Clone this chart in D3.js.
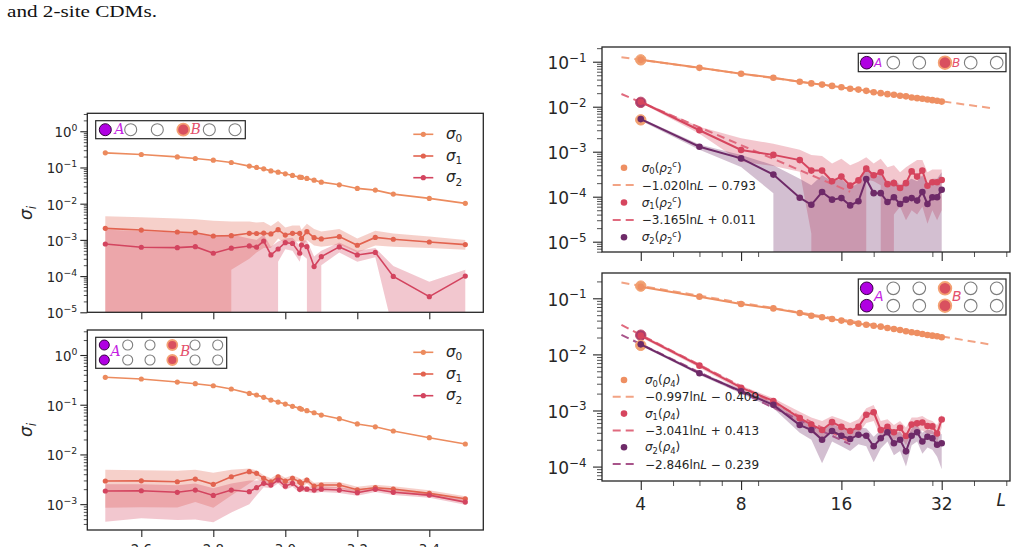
<!DOCTYPE html>
<html>
<head>
<meta charset="utf-8">
<script src="https://cdn.jsdelivr.net/npm/d3@7"></script>
<style>
  body { margin: 0; background: #fff; overflow: hidden; }
  text { font-family: "DejaVu Sans", sans-serif; fill: #262626; }
</style>
</head>
<body>
<svg id="fig" width="1018" height="547"></svg>
<script>
// ---- left column: sigma_i against the coupling ----
const xLeft = [2.5, 2.6, 2.7, 2.75, 2.8, 2.85, 2.9, 2.92, 2.94, 2.96, 2.98, 3.0, 3.02, 3.04, 3.045, 3.06, 3.08, 3.1, 3.15, 3.2, 3.25, 3.3, 3.4, 3.5];
const xLeftTicks = [2.6, 2.8, 3.0, 3.2, 3.4];

// top left (1-site)
const tlSigma0 = [0.253, 0.228, 0.196, 0.177, 0.159, 0.137, 0.109, 0.100, 0.0915, 0.0805, 0.0743, 0.0667, 0.0603, 0.054, 0.053, 0.0498, 0.0447, 0.0393, 0.0332, 0.0264, 0.0237, 0.0184, 0.014, 0.0102];
const tlSigma1 = [2.08e-3, 1.87e-3, 1.65e-3, 1.58e-3, 1.28e-3, 1.31e-3, 1.52e-3, 1.5e-3, 1.54e-3, 1.46e-3, 1.91e-3, 1.36e-3, 1.52e-3, 1.52e-3, 1.1e-3, 1.69e-3, 1.15e-3, 1.06e-3, 1.23e-3, 7.1e-4, 1.17e-3, 1.04e-3, 8.75e-4, 7.4e-4];
const tlSigma2 = [7.7e-4, 6.25e-4, 6.1e-4, 6.5e-4, 4.27e-4, 5.9e-4, 6.8e-4, 6.3e-4, 9.3e-4, 3.84e-4, 5.6e-4, 8.4e-4, 8.0e-4, 4.27e-4, 7.2e-4, 6.5e-4, 1.83e-4, 3.44e-4, 6.4e-4, 3.84e-4, 4.5e-4, 9.8e-5, 2.7e-5, 1.0e-4];
const tlSigma1Hi = [4.5e-3, 4.2e-3, 3.9e-3, 3.7e-3, 3.4e-3, 3.2e-3, 3.2e-3, 3.0e-3, 3.1e-3, 2.4e-3, 3.3e-3, 2.2e-3, 2.5e-3, 2.5e-3, 1.9e-3, 2.8e-3, 2.0e-3, 1.7e-3, 2.0e-3, 1.1e-3, 1.8e-3, 1.5e-3, 1.25e-3, 1.0e-3];
const tlSigma1Lo = [0, 0, 0, 0, 0, 1.5e-4, 3e-4, 4.5e-4, 6e-4, 6e-4, 1.1e-3, 8e-4, 9e-4, 9e-4, 6.5e-4, 1.0e-3, 7e-4, 6.5e-4, 7.5e-4, 4.5e-4, 7e-4, 6.5e-4, 6e-4, 5.3e-4];
const tlSigma2Hi = [1.9e-3, 1.75e-3, 1.6e-3, 1.6e-3, 1.3e-3, 1.4e-3, 1.1e-3, 1.0e-3, 1.4e-3, 6.5e-4, 9e-4, 1.1e-3, 1.15e-3, 7e-4, 1.0e-3, 9.5e-4, 3.5e-4, 5e-4, 8.5e-4, 5e-4, 6e-4, 1.9e-4, 7e-5, 1.5e-4];
const tlSigma2Lo = [0, 0, 0, 0, 0, 0, 0, 0, 3e-4, 0, 2.5e-4, 5.5e-4, 5e-4, 2.5e-4, 4e-4, 3e-4, 0, 2e-4, 4.5e-4, 2.5e-4, 3.3e-4, 3e-6, 0, 0];

// bottom left (2-site)
const blSigma0 = [0.356, 0.329, 0.286, 0.265, 0.241, 0.207, 0.169, 0.157, 0.141, 0.124, 0.113, 0.103, 0.0927, 0.0845, 0.081, 0.0759, 0.069, 0.062, 0.0524, 0.041, 0.036, 0.0296, 0.0217, 0.0162];
const blSigma1 = [2.92e-3, 2.94e-3, 2.82e-3, 3.2e-3, 2.5e-3, 3.56e-3, 4.5e-3, 4.16e-3, 3.3e-3, 2.8e-3, 3.56e-3, 2.9e-3, 3.3e-3, 2.8e-3, 2.6e-3, 3.05e-3, 2.31e-3, 2.42e-3, 2.42e-3, 1.95e-3, 2.14e-3, 2.01e-3, 1.65e-3, 1.28e-3];
const blSigma2 = [1.84e-3, 1.86e-3, 1.73e-3, 1.92e-3, 1.5e-3, 1.92e-3, 1.78e-3, 2.14e-3, 2.62e-3, 2.42e-3, 3.05e-3, 2.3e-3, 2.62e-3, 1.99e-3, 2.1e-3, 2.0e-3, 1.92e-3, 2.0e-3, 1.92e-3, 1.7e-3, 1.99e-3, 1.73e-3, 1.52e-3, 1.1e-3];
const blSigma1Hi = [4.9e-3, 4.8e-3, 4.7e-3, 4.9e-3, 4.3e-3, 4.9e-3, 5.2e-3, 4.8e-3, 3.8e-3, 3.3e-3, 4.1e-3, 3.4e-3, 3.8e-3, 3.3e-3, 3.1e-3, 3.5e-3, 2.7e-3, 2.8e-3, 2.8e-3, 2.25e-3, 2.45e-3, 2.3e-3, 1.9e-3, 1.45e-3];
const blSigma1Lo = [8.5e-4, 8.7e-4, 8.6e-4, 1.1e-3, 8.5e-4, 1.5e-3, 2.6e-3, 3.2e-3, 2.8e-3, 2.4e-3, 3.0e-3, 2.5e-3, 2.8e-3, 2.4e-3, 2.2e-3, 2.6e-3, 1.95e-3, 2.05e-3, 2.1e-3, 1.7e-3, 1.85e-3, 1.75e-3, 1.42e-3, 1.12e-3];
const blSigma2Hi = [2.5e-3, 2.5e-3, 2.4e-3, 2.6e-3, 2.1e-3, 2.6e-3, 3.0e-3, 3.0e-3, 3.1e-3, 2.8e-3, 3.5e-3, 2.7e-3, 3.0e-3, 2.3e-3, 2.4e-3, 2.3e-3, 2.2e-3, 2.3e-3, 2.2e-3, 1.95e-3, 2.25e-3, 1.95e-3, 1.7e-3, 1.25e-3];
const blSigma2Lo = [4.4e-4, 5.2e-4, 4.8e-4, 4.9e-4, 4.3e-4, 6.8e-4, 1.0e-3, 1.5e-3, 2.2e-3, 2.1e-3, 2.6e-3, 1.95e-3, 2.25e-3, 1.7e-3, 1.8e-3, 1.75e-3, 1.65e-3, 1.75e-3, 1.68e-3, 1.48e-3, 1.75e-3, 1.52e-3, 1.35e-3, 0.97e-3];

// ---- right column: sigma_i against system size L ----
const xRight = [4, 6, 8, 10, 12, 13, 14, 15, 16, 17, 18, 19, 20, 21, 22, 23, 24, 25, 26, 27, 28, 29, 30, 31, 32];
const xRightTicks = [4, 8, 16, 32];
const xRightMinor = [5, 6, 7, 9, 20, 30, 40, 50];

// top right (connected 2-site CDM)
const trSigma0 = [0.11, 0.073, 0.054, 0.044, 0.036, 0.033, 0.031, 0.029, 0.027, 0.025, 0.024, 0.0225, 0.021, 0.020, 0.019, 0.0185, 0.0175, 0.017, 0.016, 0.0155, 0.015, 0.0145, 0.014, 0.0136, 0.013];
const trSigma1 = [0.0129, 3.0e-3, 1.09e-3, 8.5e-4, 6.5e-4, 3.8e-4, 3.8e-4, 2.2e-4, 2.8e-4, 1.76e-4, 2.3e-4, 4.2e-4, 3.0e-4, 3.5e-4, 1.9e-4, 2.0e-4, 1.56e-4, 2.0e-4, 3.65e-4, 2.8e-4, 3.8e-4, 1.75e-4, 2.1e-4, 2.1e-4, 2.35e-4];
const trSigma2 = [5.3e-3, 1.29e-3, 7.1e-4, 3.1e-4, 9.5e-5, 6.6e-5, 1.27e-4, 8.6e-5, 9.3e-5, 6.4e-5, 7.9e-5, 2.47e-4, 1.2e-4, 1.2e-4, 7.6e-5, 9.7e-5, 6.9e-5, 8.6e-5, 9.3e-5, 8.2e-5, 1.27e-4, 6.9e-5, 9.7e-5, 9.7e-5, 1.43e-4];
const trSigma1Hi = [0.0135, 3.6e-3, 2.0e-3, 1.5e-3, 1.1e-3, 8.5e-4, 8e-4, 5.5e-4, 7e-4, 5e-4, 6e-4, 7.5e-4, 5.5e-4, 7e-4, 4.5e-4, 5e-4, 3.5e-4, 4.5e-4, 5.5e-4, 6.5e-4, 6.5e-4, 3.5e-4, 4e-4, 4e-4, 4e-4];
const trSigma1Lo = [0.0122, 2.5e-3, 6e-4, 4.8e-4, 3.6e-4, 1.5e-5, 0, 0, 0, 0, 0, 2.4e-4, 2.2e-4, 1.8e-4, 0, 4e-5, 6e-5, 3e-5, 5e-5, 4e-5, 6e-5, 2.5e-5, 5e-5, 3e-5, 5e-5];
const trSigma2Hi = [5.6e-3, 1.45e-3, 8.5e-4, 5e-4, 2.5e-4, 1.8e-4, 3e-4, 2.2e-4, 2.5e-4, 1.6e-4, 2e-4, 5e-4, 3e-4, 3e-4, 2e-4, 2.5e-4, 1.8e-4, 2.2e-4, 2.5e-4, 2.2e-4, 3e-4, 1.8e-4, 2.5e-4, 2.5e-4, 3.5e-4];
const trSigma2Lo = [4.9e-3, 1.1e-3, 4.6e-4, 1.2e-4, 0, 0, 0, 0, 0, 0, 0, 0, 0, 0, 0, 0, 0, 0, 0, 0, 0, 0, 0, 0, 0];
const trExactL4 = [0.11, 0.0125, 5.1e-3];
const trFitSlope = [-1.020, -3.165];
const trFitIntercept = [-0.793, 0.011];
const trFitEnd = [45, 17];

// bottom right (4-site CDM)
const brSigma0 = [0.16, 0.107, 0.079, 0.066, 0.0547, 0.049, 0.0458, 0.0428, 0.040, 0.0373, 0.0353, 0.0338, 0.0325, 0.0312, 0.0296, 0.0284, 0.0272, 0.0258, 0.0248, 0.024, 0.0231, 0.0222, 0.0216, 0.021, 0.0202];
const brSigma1 = [0.0216, 6.3e-3, 2.55e-3, 1.48e-3, 7.3e-4, 5.6e-4, 4.5e-4, 6.2e-4, 5.1e-4, 4.3e-4, 5.1e-4, 8.4e-4, 9.3e-4, 4.5e-4, 5.1e-4, 4.1e-4, 4.9e-4, 3.5e-4, 5.6e-4, 5.9e-4, 6.1e-4, 5.3e-4, 5.2e-4, 3.9e-4, 6.9e-4];
const brSigma2 = [0.0151, 4.6e-3, 2.2e-3, 1.26e-3, 5.5e-4, 4.5e-4, 3.0e-4, 4.3e-4, 3.55e-4, 3.1e-4, 3.7e-4, 3.55e-4, 2.3e-4, 3.2e-4, 4.1e-4, 2.6e-4, 3.0e-4, 1.87e-4, 3.55e-4, 4.1e-4, 2.8e-4, 3.4e-4, 3.2e-4, 2.45e-4, 2.6e-4];
const brSigma1Hi = [0.023, 6.8e-3, 2.8e-3, 1.65e-3, 9.5e-4, 7.5e-4, 6.5e-4, 8e-4, 7e-4, 6e-4, 7e-4, 1.1e-3, 1.25e-3, 6.5e-4, 7e-4, 5.5e-4, 6.5e-4, 5e-4, 7.5e-4, 7.5e-4, 8e-4, 7e-4, 6.5e-4, 5.5e-4, 8.5e-4];
const brSigma1Lo = [0.0202, 5.8e-3, 2.3e-3, 1.3e-3, 5.5e-4, 4e-4, 3.2e-4, 4.5e-4, 3.7e-4, 3.1e-4, 3.8e-4, 6e-4, 6.5e-4, 3.3e-4, 3.7e-4, 2.9e-4, 3.6e-4, 2.4e-4, 4e-4, 4.3e-4, 4.4e-4, 3.8e-4, 3.8e-4, 2.7e-4, 5e-4];
const brSigma2Hi = [0.016, 4.9e-3, 2.4e-3, 1.4e-3, 7e-4, 6e-4, 4.5e-4, 5.8e-4, 4.8e-4, 4.3e-4, 5e-4, 4.8e-4, 3.4e-4, 4.5e-4, 5.5e-4, 3.8e-4, 4.2e-4, 3e-4, 4.8e-4, 5.5e-4, 4e-4, 4.6e-4, 4.4e-4, 3.6e-4, 3.8e-4];
const brSigma2Lo = [0.0142, 4.3e-3, 2.0e-3, 1.1e-3, 4e-4, 3e-4, 1.15e-4, 2.8e-4, 2.3e-4, 1.9e-4, 2.5e-4, 2.3e-4, 1.2e-4, 2.1e-4, 2.8e-4, 1.6e-4, 1.9e-4, 1e-4, 2.4e-4, 2.8e-4, 1.7e-4, 2.2e-4, 2e-4, 1.5e-4, 9e-5];
const brExactL4 = [0.165, 0.022, 0.0145];
const brFitSlope = [-0.997, -3.041, -2.846];
const brFitIntercept = [-0.409, 0.413, -0.239];
const brFitEnd = [45, 17, 17];
const fitStart = 3.5;

const INK = '#262626';
const leftColors = ['#ec8b5e', '#e2634f', '#d3445f'];
const rightColors = ['#ee8f62', '#d6455e', '#6e2a68'];
const fitColors = ['#f2a384', '#e06a7e', '#a8548a'];
const exactColors = ['#f0a070', '#a93c6c', '#f0a070'];

const svg = d3.select('#fig');

// tail of the page caption above the figure
svg.append('text').attr('x', 7).attr('y', 17)
  .attr('textLength', 150).attr('lengthAdjust', 'spacingAndGlyphs')
  .style('font-family', '"Liberation Serif", "DejaVu Serif", serif').style('font-size', '17px').style('fill', '#111')
  .text('and 2-site CDMs.');

function logMinors(scale) {
  const [lo, hi] = scale.domain();
  const out = [];
  for (let k = Math.floor(Math.log10(lo)); k <= Math.ceil(Math.log10(hi)); k++) {
    for (let m = 2; m <= 9; m++) {
      const v = m * Math.pow(10, k);
      if (v >= lo && v <= hi) out.push(v);
    }
  }
  return out;
}

function sigmaText(g, x, y, idx, size, tail) {
  const t = g.append('text').attr('x', x).attr('y', y).style('font-size', size + 'px');
  t.append('tspan').style('font-style', 'italic').text('σ');
  t.append('tspan').attr('dy', size * 0.22).style('font-size', (size * 0.7) + 'px').text(idx);
  if (tail) {
    t.append('tspan').attr('dy', -size * 0.22).text('(');
    t.append('tspan').style('font-style', 'italic').text('ρ');
    t.append('tspan').attr('dy', size * 0.22).style('font-size', (size * 0.7) + 'px').text(tail[0]);
    if (tail[1]) t.append('tspan').attr('dy', -size * 0.6).style('font-size', (size * 0.7) + 'px').style('font-style', 'italic').text(tail[1]);
    t.append('tspan').attr('dy', tail[1] ? size * 0.38 : -size * 0.22).text(')');
  }
  return t;
}

function fitText(g, x, y, a, b, size) {
  const t = g.append('text').attr('x', x).attr('y', y).style('font-size', size + 'px');
  t.append('tspan').text('−' + Math.abs(a).toFixed(3) + 'ln');
  t.append('tspan').style('font-style', 'italic').text('L');
  t.append('tspan').text((b < 0 ? ' − ' : ' + ') + Math.abs(b).toFixed(3));
}

function lattice(g, box, rows, cx, r, aPos, bPos, fs, serif) {
  g.append('rect').attr('x', box[0]).attr('y', box[1]).attr('width', box[2] - box[0]).attr('height', box[3] - box[1])
    .attr('fill', '#fff').attr('stroke', INK).attr('stroke-width', 1.2);
  rows.forEach(cy => cx.forEach((x, j) => {
    const c = g.append('circle').attr('cx', x).attr('cy', cy).attr('r', r);
    if (j === 0) c.attr('fill', '#b000e2').attr('stroke', '#35003f').attr('stroke-width', 1);
    else if (j === 3) c.attr('fill', '#d9505f').attr('stroke', '#f4a274').attr('stroke-width', 1.8);
    else c.attr('fill', 'none').attr('stroke', '#7d7d7d').attr('stroke-width', 1.1);
  }));
  const fam = serif ? '"DejaVu Serif", serif' : '"DejaVu Sans", sans-serif';
  g.append('text').attr('x', aPos[0]).attr('y', aPos[1]).style('font-family', fam).style('font-style', 'italic')
    .style('font-size', fs + 'px').style('fill', '#c41ee2').text('A');
  g.append('text').attr('x', bPos[0]).attr('y', bPos[1]).style('font-family', fam).style('font-style', 'italic')
    .style('font-size', fs + 'px').style('fill', '#e4506c').text('B');
}

function drawPanel(p) {
  const g = svg.append('g');
  const [x0, x1] = p.x.range();
  const [yb, yt] = p.y.range();
  const clipId = 'clip-' + p.name;
  g.append('clipPath').attr('id', clipId).append('rect')
    .attr('x', x0).attr('y', yt).attr('width', x1 - x0).attr('height', yb - yt);
  const plot = g.append('g').attr('clip-path', `url(#${clipId})`);
  // non-positive band edges fall far below the axis, as matplotlib clips them
  const Y = v => (v > 0 ? p.y(v) : yb + 1e5);
  const X = i => p.x(p.xs[i]);

  p.bands.forEach(b => {
    const area = d3.area().x((d, i) => X(i)).y0((d, i) => Y(b.lo[i])).y1((d, i) => Y(b.hi[i]));
    plot.append('path').attr('d', area(p.xs)).attr('fill', b.color).attr('fill-opacity', 0.3);
  });

  (p.fits || []).forEach(f => {
    const pts = [fitStart, f.end].map(L => [p.x(L), p.y(Math.exp(f.a * Math.log(L) + f.b))]);
    plot.append('path').attr('d', d3.line()(pts)).attr('fill', 'none').attr('stroke', f.color)
      .attr('stroke-width', 2).attr('stroke-dasharray', '8,5');
  });

  (p.exact || []).forEach((v, i) => {
    plot.append('circle').attr('cx', p.x(p.xs[0])).attr('cy', p.y(v)).attr('r', 5.2)
      .attr('fill', exactColors[i]).attr('stroke', i === 1 ? '#c04a6c' : '#f3a070').attr('stroke-width', 1);
  });

  p.series.forEach(s => {
    const line = d3.line().x((d, i) => X(i)).y(d => p.y(d));
    plot.append('path').attr('d', line(s.values)).attr('fill', 'none').attr('stroke', s.color)
      .attr('stroke-width', p.lw);
    plot.selectAll(null).data(s.values).enter().append('circle')
      .attr('cx', (d, i) => X(i)).attr('cy', d => p.y(d)).attr('r', p.mr).attr('fill', s.color);
  });

  g.append('rect').attr('x', x0).attr('y', yt).attr('width', x1 - x0).attr('height', yb - yt)
    .attr('fill', 'none').attr('stroke', INK).attr('stroke-width', 1.3);

  // y axis: minor then major ticks, labels as 10^k
  const ya = g.append('g').attr('transform', `translate(${x0},0)`).attr('color', INK);
  ya.append('g').call(d3.axisLeft(p.y).tickValues(logMinors(p.y)).tickSize(p.minorLen).tickSizeOuter(0).tickFormat(''))
    .call(a => a.select('.domain').remove()).selectAll('line').attr('stroke-width', 0.8);
  ya.append('g').call(d3.axisLeft(p.y).tickValues(p.yExps.map(e => Math.pow(10, e))).tickSize(p.majorLen).tickSizeOuter(0).tickFormat(''))
    .call(a => a.select('.domain').remove()).selectAll('line').attr('stroke-width', 1.1);
  p.yExps.forEach(e => {
    const t = g.append('text').attr('x', x0 - p.labelGap).attr('y', p.y(Math.pow(10, e)) + p.fs * 0.45)
      .attr('text-anchor', 'end').style('font-size', p.fs + 'px');
    t.append('tspan').text('10');
    t.append('tspan').attr('dy', -p.fs * 0.45).style('font-size', (p.fs * 0.7) + 'px').text(e < 0 ? '−' + (-e) : e);
  });

  // x axis
  const xa = g.append('g').attr('transform', `translate(0,${yb})`).attr('color', INK);
  if (p.xMinor) {
    xa.append('g').call(d3.axisBottom(p.x).tickValues(p.xMinor).tickSize(p.minorLen).tickSizeOuter(0).tickFormat(''))
      .call(a => a.select('.domain').remove()).selectAll('line').attr('stroke-width', 0.8);
  }
  xa.append('g').call(d3.axisBottom(p.x).tickValues(p.xTicks).tickSize(p.majorLen).tickSizeOuter(0).tickFormat(''))
    .call(a => a.select('.domain').remove()).selectAll('line').attr('stroke-width', 1.1);
  if (p.xLabels) {
    p.xTicks.forEach(v => {
      g.append('text').attr('x', p.x(v)).attr('y', yb + p.majorLen + p.xLabelDrop).attr('text-anchor', 'middle')
        .style('font-size', p.fs + 'px').text(p.xFormat(v));
    });
  }
  return g;
}

// ---------- left panels ----------
const xScaleLeft = d3.scaleLinear().domain([2.45, 3.55]).range([87.3, 483.3]);

function leftPanel(name, yScale, yExps, vals, bands, labels) {
  return drawPanel({
    name, x: xScaleLeft, y: yScale, xs: xLeft, yExps, xTicks: xLeftTicks, xLabels: labels,
    xFormat: d3.format('.1f'), fs: 13.3, labelGap: 10, majorLen: 7, minorLen: 3.5, lw: 1.6, mr: 2.6,
    xLabelDrop: 17,
    series: vals.map((v, i) => ({ values: v, color: leftColors[i] })),
    bands: bands.map(b => ({ hi: b[0], lo: b[1], color: leftColors[b[2]] }))
  });
}

const yTL = d3.scaleLog().domain([1e-5, Math.pow(10, 0.496)]).range([312.3, 113.3]);
const gTL = leftPanel('tl', yTL, [-5, -4, -3, -2, -1, 0], [tlSigma0, tlSigma1, tlSigma2],
  [[tlSigma1Hi, tlSigma1Lo, 1], [tlSigma2Hi, tlSigma2Lo, 2]], false);

const yBL = d3.scaleLog().domain([Math.pow(10, -3.52), Math.pow(10, 0.503)]).range([530, 330]);
const gBL = leftPanel('bl', yBL, [-3, -2, -1, 0], [blSigma0, blSigma1, blSigma2],
  [[blSigma1Hi, blSigma1Lo, 1], [blSigma2Hi, blSigma2Lo, 2]], true);

// left legends
[[gTL, 134.3], [gBL, 352.3]].forEach(([g, y0]) => {
  [0, 1, 2].forEach(i => {
    const yy = y0 + i * 21.7;
    g.append('line').attr('x1', 413.3).attr('x2', 433.3).attr('y1', yy).attr('y2', yy)
      .attr('stroke', leftColors[i]).attr('stroke-width', 1.6);
    g.append('circle').attr('cx', 423.3).attr('cy', yy).attr('r', 2.6).attr('fill', leftColors[i]);
    sigmaText(g, 446, yy + 4.5, String(i), 15);
  });
});

// left y labels
[[gTL, 213], [gBL, 430]].forEach(([g, yc]) => {
  const t = g.append('text').attr('transform', `translate(31.5,${yc}) rotate(-90)`).attr('text-anchor', 'middle')
    .style('font-size', '17px');
  t.append('tspan').style('font-style', 'italic').text('σ');
  t.append('tspan').attr('dy', 4).style('font-size', '12px').style('font-style', 'italic').text('i');
});

lattice(gTL, [95.7, 120.7, 245.3, 138.7], [129.7], [105.3, 130.7, 157.3, 183.3, 209.3, 235], 6,
  [114.5, 134.3], [190.5, 134.3], 14, true);
lattice(gBL, [95.7, 337.3, 226.7, 368.3], [345, 360], [104.3, 127.7, 150, 172.3, 195, 217.7], 5,
  [110.5, 356], [180, 356], 14, true);

// ---------- right panels ----------
const xScaleRight = d3.scaleLog().base(2).domain([3.06, 51.3]).range([602, 1010]);

function rightPanel(name, yScale, yExps, vals, bands, exact, fits, labels) {
  return drawPanel({
    name, x: xScaleRight, y: yScale, xs: xRight, yExps, xTicks: xRightTicks, xMinor: xRightMinor, xLabels: labels,
    xFormat: d3.format('d'), fs: 17, labelGap: 15.3, majorLen: 9, minorLen: 5, lw: 2, mr: 3.3,
    xLabelDrop: 20,
    series: vals.map((v, i) => ({ values: v, color: rightColors[i] })),
    bands: bands.map(b => ({ hi: b[0], lo: b[1], color: rightColors[b[2]] })),
    exact, fits
  });
}

const yTR = d3.scaleLog().domain([Math.pow(10, -5.229), Math.pow(10, -0.673)]).range([252, 47]);
const gTR = rightPanel('tr', yTR, [-5, -4, -3, -2, -1], [trSigma0, trSigma1, trSigma2],
  [[trSigma1Hi, trSigma1Lo, 1], [trSigma2Hi, trSigma2Lo, 2]], trExactL4,
  trFitSlope.map((a, i) => ({ a, b: trFitIntercept[i], end: trFitEnd[i], color: fitColors[i] })), false);

const yBR = d3.scaleLog().domain([Math.pow(10, -4.257), Math.pow(10, -0.549)]).range([481, 273]);
const gBR = rightPanel('br', yBR, [-4, -3, -2, -1], [brSigma0, brSigma1, brSigma2],
  [[brSigma1Hi, brSigma1Lo, 1], [brSigma2Hi, brSigma2Lo, 2]], brExactL4,
  brFitSlope.map((a, i) => ({ a, b: brFitIntercept[i], end: brFitEnd[i], color: fitColors[i] })), true);

gBR.append('text').attr('x', 996.5).attr('y', 505.5).style('font-size', '17px').style('font-style', 'italic').text('L');

// right legends: marker rows and dashed fit rows
function rightLegend(g, y0, step, tail, slopes, intercepts, textX) {
  let row = 0;
  [0, 1, 2].forEach(i => {
    const yy = y0 + row * step;
    g.append('circle').attr('cx', 624).attr('cy', yy).attr('r', 3.3).attr('fill', rightColors[i]);
    sigmaText(g, textX, yy + 4, String(i), 12, tail);
    row++;
    if (i < slopes.length) {
      const yf = y0 + row * step;
      g.append('line').attr('x1', 612.7).attr('x2', 635).attr('y1', yf).attr('y2', yf)
        .attr('stroke', fitColors[i]).attr('stroke-width', 2).attr('stroke-dasharray', '8,5');
      fitText(g, textX, yf + 4.5, slopes[i], intercepts[i], 12);
      row++;
    }
  });
}
rightLegend(gTR, 167.7, 17.4, ['2', 'c'], trFitSlope, trFitIntercept, 641.7);
rightLegend(gBR, 380, 16.8, ['4', null], brFitSlope, brFitIntercept, 645);

lattice(gTR, [858.3, 53.3, 1006, 71.7], [62.7], [866.7, 893.3, 919.3, 945, 970.7, 996.7], 6.3,
  [874, 67], [952, 67], 12, false);
lattice(gBR, [858.3, 279, 1006, 315], [288.3, 305.7], [866.7, 893.3, 919.3, 945, 970.7, 996.7], 6.3,
  [874, 301], [952, 301], 14, false);
</script>
</body>
</html>
